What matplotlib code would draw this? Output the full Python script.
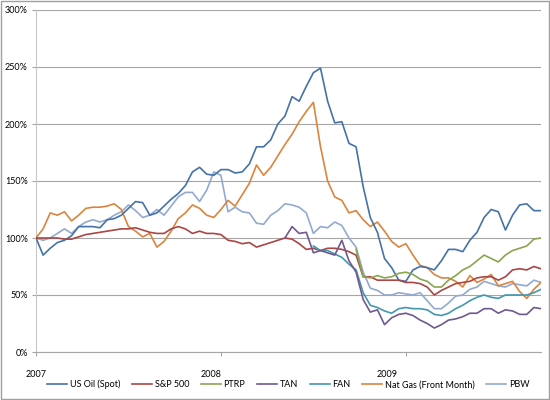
import matplotlib
matplotlib.use("Agg")
import matplotlib.pyplot as plt
import numpy as np

# fortnightly samples, index in weeks from start of 2007
weeks = np.arange(0, 144, 2)

us_oil = [100, 85, 91, 96, 98, 102, 110, 110, 110, 109,
          116, 117, 120, 126, 132, 131, 120, 122, 128, 134,
          139, 146, 158, 162, 156, 155, 160, 160, 157, 158,
          165, 180, 180, 186, 200, 207, 224, 220, 233, 245,
          249, 220, 201, 202, 183, 180, 145, 118, 105, 82,
          74, 63, 62, 72, 75, 74, 72, 80, 90, 90,
          88, 98, 105, 118, 125, 123, 107, 120, 129, 130,
          124, 124]
sp500 = [100, 100, 100, 100, 99, 99, 101, 103, 104, 105,
         106, 107, 108, 108, 109, 107, 105, 104, 104, 108,
         110, 108, 104, 106, 104, 104, 103, 98, 97, 95,
         96, 92, 94, 96, 98, 100, 99, 95, 90, 91,
         89, 91, 91, 90, 88, 85, 66, 66, 63, 63,
         63, 63, 61, 61, 60, 57, 50, 54, 57, 60,
         61, 62, 65, 66, 66, 63, 66, 72, 73, 72,
         75, 73]
natgas = [100, 108, 122, 120, 123, 115, 120, 126, 127, 127,
          128, 130, 125, 110, 106, 101, 104, 92, 97, 106,
          117, 122, 129, 126, 120, 118, 125, 133, 128, 138,
          148, 164, 155, 162, 172, 182, 191, 202, 211, 219,
          180, 150, 136, 133, 122, 124, 116, 110, 114, 106,
          97, 92, 95, 85, 76, 74, 68, 65, 65, 62,
          57, 67, 61, 64, 68, 58, 60, 62, 53, 47,
          55, 61]
pbw = [100, 98, 100, 104, 108, 104, 110, 114, 116, 114,
       116, 120, 123, 129, 124, 118, 120, 125, 120, 128,
       136, 140, 140, 132, 142, 158, 155, 123, 127, 123,
       122, 113, 112, 120, 124, 130, 129, 127, 122, 104,
       110, 109, 114, 111, 100, 92, 70, 56, 54, 50,
       50, 52, 51, 50, 52, 45, 38, 38, 43, 49,
       50, 55, 57, 62, 60, 58, 57, 60, 59, 58,
       63, 61]
# later listings: first value is at sample index given
tan_start = 35
tan = [100, 110, 104, 105, 87, 89, 87, 85, 98, 80,
       70, 46, 35, 37, 24, 30, 33, 34, 32, 28,
       25, 21, 24, 28, 29, 31, 34, 34, 38, 38,
       34, 37, 36, 33, 33, 39, 38]
fan_start = 39
fan = [93, 89, 89, 86, 83, 77, 72, 52, 41, 39,
       36, 34, 38, 39, 38, 38, 37, 33, 32, 34,
       38, 41, 45, 48, 50, 48, 47, 50, 50, 50,
       50, 52, 55]
ptrp_start = 45
ptrp = [90, 66, 65, 67, 65, 66, 69, 70, 68, 64,
        62, 57, 57, 63, 67, 72, 75, 80, 85, 82,
        79, 85, 89, 91, 93, 99, 100]

year_labels = ["2007", "2008", "2009"]
year_label_pos = [0.1, 49.2, 98.7]
year_ticks = [0, 52, 104]


def pad(start, vals):
    return np.array([np.nan] * start + vals, dtype=float)


series = [
    ("US Oil (Spot)", np.array(us_oil, float), "#4572A7"),
    ("S&P 500", np.array(sp500, float), "#AA4643"),
    ("PTRP", pad(ptrp_start, ptrp), "#89A54E"),
    ("TAN", pad(tan_start, tan), "#71588F"),
    ("FAN", pad(fan_start, fan), "#4198AF"),
    ("Nat Gas (Front Month)", np.array(natgas, float), "#DB843D"),
    ("PBW", np.array(pbw, float), "#93A9CF"),
]

plt.rcParams['font.family'] = ['Lato', 'DejaVu Sans']

fig = plt.figure(figsize=(5.5, 4), dpi=100)
ax = fig.add_axes([36 / 550, 48 / 400, 505 / 550, 342 / 400])

# z-order so the later series sit on top like the original
order = ["PBW", "Nat Gas (Front Month)", "US Oil (Spot)", "S&P 500", "PTRP", "FAN", "TAN"]
handles = {}
for name, vals, col in series:
    ln, = ax.plot(weeks, vals, color=col, lw=1.2, label=name,
                  zorder=3 + order.index(name) * 0.1)
    handles[name] = ln

ax.set_xlim(0, 142)
ax.set_ylim(0, 300)
ax.set_yticks(np.arange(0, 301, 50))
ax.set_yticklabels([f"{v}%" for v in range(0, 301, 50)])
ax.yaxis.grid(True, color="#A6A6A6", lw=0.8)
ax.set_axisbelow(True)

ax.set_xticks(year_ticks)
ax.set_xticklabels([])
ax.set_xticks(year_label_pos, minor=True)
ax.set_xticklabels(year_labels, minor=True)
ax.tick_params(axis="x", which="minor", length=0, pad=13, labelsize=6.5)
ax.tick_params(axis="x", which="major", length=3, color="#A6A6A6")
ax.tick_params(axis="y", length=3, color="#A6A6A6", labelsize=6.5, pad=3)

for s in ["top", "right"]:
    ax.spines[s].set_visible(False)
ax.spines["left"].set_color("#C8C8C8")
ax.spines["bottom"].set_color("#A6A6A6")

ax.legend([handles[n] for n, _, _ in series], [n for n, _, _ in series],
          loc="center", bbox_to_anchor=(0.5, -0.095), ncol=7, frameon=False,
          fontsize=6.5, handlelength=2.2, handletextpad=0.3, columnspacing=1.3)

fig.patches.append(plt.Rectangle((0.002, 0.002), 0.996, 0.996, transform=fig.transFigure,
                                 fill=False, edgecolor="#A0A0A0", lw=1))

fig.savefig("out.png", dpi=100)
